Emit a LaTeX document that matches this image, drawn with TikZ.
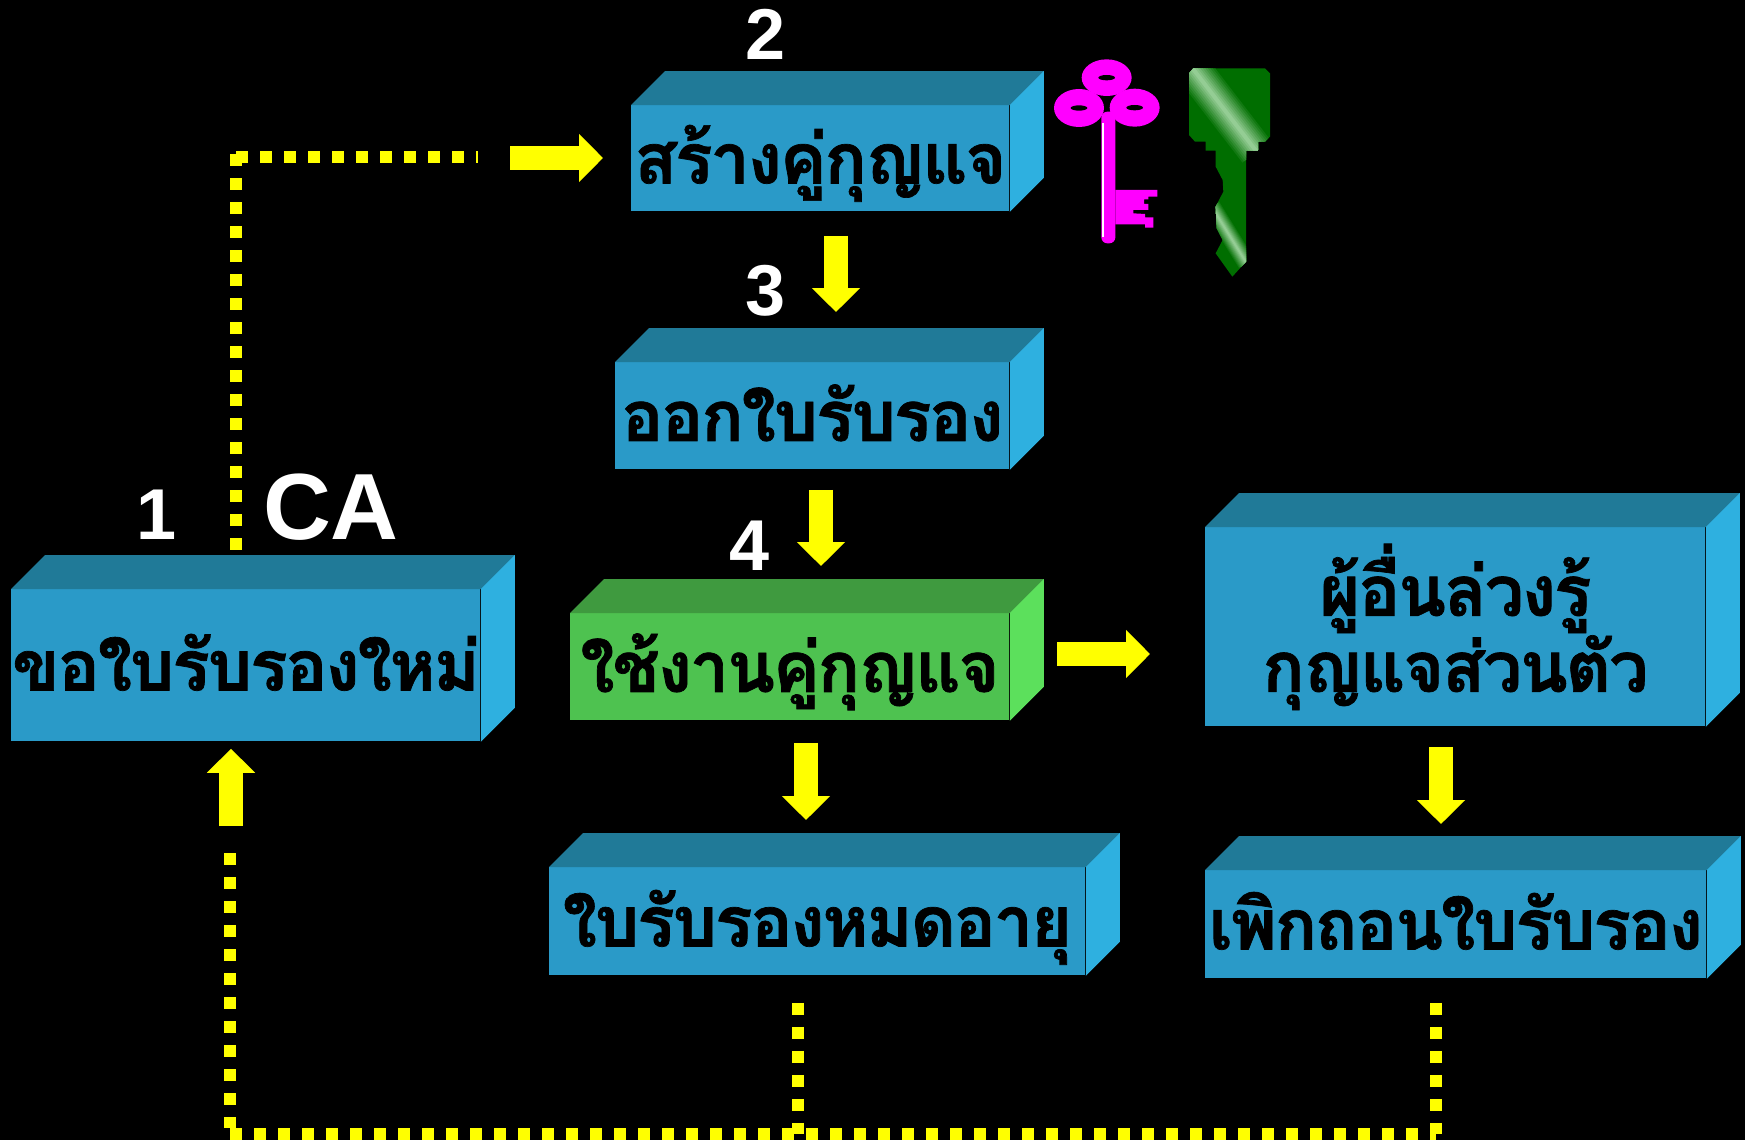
\documentclass[tikz,border=0pt]{standalone}
\usepackage{fontspec}
\setmainfont{Liberation Sans}
\newfontfamily\thaifont[Script=Thai,LetterSpace=-3,FakeBold=1]{Loma}
\usetikzlibrary{arrows.meta}
\definecolor{boxfront}{RGB}{42,154,200}
\definecolor{boxtop}{RGB}{32,122,152}
\definecolor{boxside}{RGB}{46,176,224}
\definecolor{greenfront}{RGB}{78,194,80}
\definecolor{greentop}{RGB}{63,154,63}
\definecolor{greenside}{RGB}{92,224,92}
\definecolor{keygreen}{RGB}{0,110,0}
\definecolor{keylight}{RGB}{165,215,165}
\definecolor{keypink}{RGB}{255,0,255}
\definecolor{signyellow}{RGB}{255,255,0}
\tikzset{
	slab/.style={anchor=north west,inner sep=0pt,fill=boxfront,text=black,align=center,font=\thaifont\bfseries\fontsize{35}{38}\selectfont},
	slabline/.style={slab,text height=33pt,text depth=8pt},
	slabgreen/.style={slabline,fill=greenfront},
	stepnum/.style={inner sep=0pt,text=white,font=\bfseries\fontsize{36}{36}\selectfont},
	blockarrow/.style={line width=12pt,signyellow,-{Triangle[length=12pt,width=23.5pt]}},
	dotline/.style={line width=6pt,signyellow,dash pattern=on 6pt off 6pt},
}
\newcommand{\slabnode}[7]{\node[#1,minimum width=#4*0.5pt,minimum height=#5*0.5pt] (#2) at (#6,#7) {#3};}
\begin{document}
\begin{tikzpicture}[x=0.5pt,y=-0.5pt]
	\fill[black] (0,0) rectangle (1745,1140);
	\useasboundingbox (0,0) rectangle (1745,1140);
	% boxes
	\slabnode{slabline}{make}{สร้างคู่กุญแจ}{378}{106}{631}{105}
	\slabnode{slabline}{issue}{ออกใบรับรอง}{394}{107}{615}{362}
	\slabnode{slabgreen}{use}{ใช้งานคู่กุญแจ}{439}{107}{570}{613}
	\slabnode{slabline}{renew}{ขอใบรับรองใหม่}{469}{152}{11}{589}
	\slabnode{slab}{leak}{ผู้อื่นล่วงรู้\\กุญแจส่วนตัว}{500}{199}{1205}{527}
	\slabnode{slabline}{expire}{ใบรับรองหมดอายุ}{536}{108}{549}{867}
	\slabnode{slabline}{revoke}{เพิกถอนใบรับรอง}{501}{108}{1205}{870}
	\foreach \n/\t/\s in {make/boxtop/boxside,issue/boxtop/boxside,use/greentop/greenside,renew/boxtop/boxside,leak/boxtop/boxside,expire/boxtop/boxside,revoke/boxtop/boxside} {
		\fill[\t] (\n.north west) -- ++(34,-34) -| ([xshift=17pt]\n.north east) -- (\n.north east) -- cycle;
		\fill[\s] (\n.north east) -- ++(34,-34) -- ([shift={(17pt,17pt)}]\n.south east) -- (\n.south east) -- cycle;
	}
	% numbers
	\node[stepnum] (one) at (157,515) {1};
	\node[stepnum] (two) at (766,34) {2};
	\node[stepnum] (three) at (766,291) {3};
	\node[stepnum] (four) at (750,546) {4};
	\node[stepnum,font=\bfseries\fontsize{47}{47}\selectfont] (ca) at (331,507) {CA};
	% dotted lines
	\coordinate (corner) at (236,154);
	\coordinate (gap) at (478,157);
	\coordinate (low) at (230,1134);
	\coordinate (mid) at (798,1134);
	\coordinate (far) at (1436,1134);
	\coordinate (topstart) at (510,158);
	\coordinate (upstart) at (231,826);
	\coordinate (sidestart) at (1057,654);
	\coordinate (sideend) at (1150,654);
	\draw[dotline,shorten >=19.5pt] (corner) -- (renew.north -| corner);
	\draw[dotline] (236,157) -- (gap);
	\draw[dotline] (low) -- (far);
	\draw[dotline] (230,853) -- (230,1128);
	\draw[dotline,shorten <=13.5pt] (expire.south -| mid) -- (mid);
	\draw[dotline,shorten <=12pt] (revoke.south -| far) -- (far);
	% arrows
	\draw[blockarrow,shorten >=14pt] (topstart) -- (make.west |- topstart);
	\draw[blockarrow,shorten <=12pt,shorten >=25pt] (make.south -| 836,0) -- (issue.north -| 836,0);
	\draw[blockarrow,shorten <=10pt,shorten >=23.5pt] (issue.south -| 821,0) -- (use.north -| 821,0);
	\draw[blockarrow,shorten <=11pt,shorten >=23.5pt] (use.south -| 806,0) -- (expire.north -| 806,0);
	\draw[blockarrow,shorten <=10pt,shorten >=23pt] (leak.south -| 1441,0) -- (revoke.north -| 1441,0);
	\draw[blockarrow] (sidestart) -- (sideend);
	\draw[blockarrow,shorten >=3.5pt] (upstart) -- (renew.south -| upstart);
	% magenta key
	\begin{scope}[shift={(1030,40)},x=0.5pt/3,y=-0.5pt/3,keypink]
		\fill (230,113) ellipse [x radius=75,y radius=55];
		\fill (147,204) ellipse [x radius=75,y radius=57];
		\fill (314,203) ellipse [x radius=75,y radius=57];
		\fill[black] (230,113) ellipse [x radius=25,y radius=8];
		\fill[black] (147,204) ellipse [x radius=25,y radius=8];
		\fill[black] (314,203) ellipse [x radius=25,y radius=8];
		\fill[rounded corners=3pt] (214,215) -- (256,215) -- (256,610) -- (214,610) -- cycle;
		\fill (256,450) -- (382,450) -- (382,470) -- (355,470) -- (355,478) -- (342,478) -- (342,492) -- (355,492) -- (355,510) -- (310,510) -- (310,520) -- (345,522) -- (345,532) -- (370,532) -- (370,563) -- (345,563) -- (345,553) -- (256,553) -- cycle;
		\fill[white] (215,250) rectangle (223,592);
	\end{scope}
	% green key
	\begin{scope}[shift={(1030,40)},x=0.5pt/3,y=-0.5pt/3]
		\clip (477,100) -- (490,85) -- (705,85) -- (720,100) -- (720,290) -- (705,305) -- (684,305) -- (684,332) -- (648,332) -- (648,665) -- (607,710) -- (557,640) -- (578,600) -- (560,565) -- (557,500) -- (580,455) -- (578,420) -- (557,380) -- (557,332) -- (527,332) -- (527,305) -- (495,305) -- (477,285) -- cycle;
		\fill[keygreen] (470,80) rectangle (725,715);
		\foreach \c in {10,20,...,90} {
			\draw[line width={(100-\c)*0.2pt},keylight!\c!keygreen] (480,75) -- (680,335);
			\draw[line width={(100-\c)*0.1pt},keylight!\c!keygreen] (545,500) -- (650,670);
		}
	\end{scope}
\end{tikzpicture}
\end{document}
